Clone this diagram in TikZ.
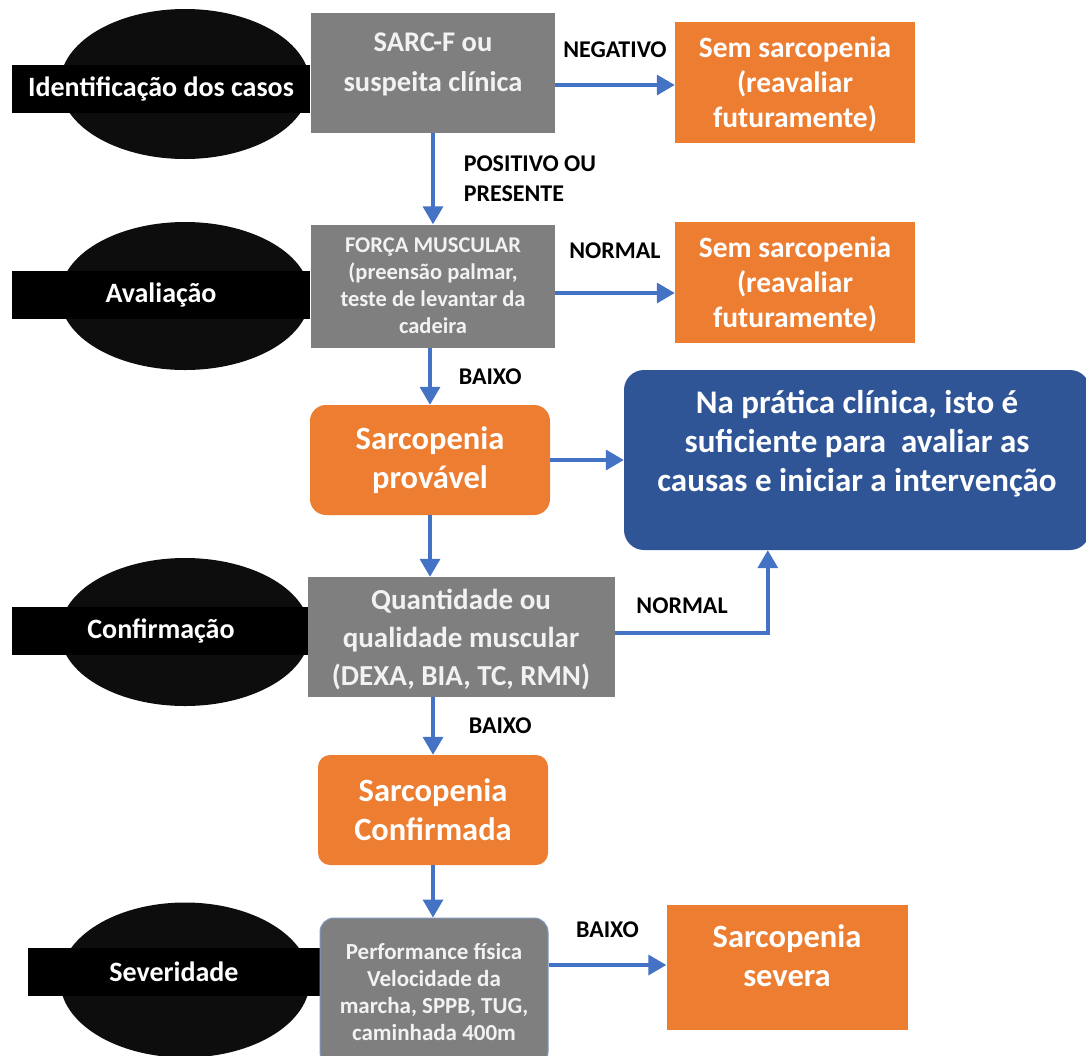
\documentclass[tikz,border=0pt]{standalone}
\usepackage{fontspec}
\setmainfont{Carlito}
\usepackage{xcolor}
\usepackage{tikz}
\usetikzlibrary{shapes.geometric,arrows.meta,positioning,calc}
\definecolor{flowblue}{RGB}{68,114,196}
\definecolor{stepgray}{RGB}{127,127,127}
\definecolor{resorange}{RGB}{237,125,49}
\definecolor{noteblue}{RGB}{47,85,151}

\begin{document}
\begin{tikzpicture}[x=1pt, y=-1pt,
        phase/.style={ellipse, fill=black!95, minimum width=250pt, minimum height=150pt},
        band/.style={rectangle, fill=black, text=white, minimum height=48pt, inner sep=0pt,
            font=\fontsize{28}{32}\selectfont\bfseries},
        graybox/.style={rectangle, fill=stepgray, text=black!5, align=center,
            font=\fontsize{28.5}{40}\selectfont\bfseries},
        smallgray/.style={graybox, font=\fontsize{22.5}{27}\selectfont\bfseries},
        sidebox/.style={rectangle, fill=resorange, text=white, align=center,
            minimum width=240pt, minimum height=121pt, text depth=-1pt,
            font=\fontsize{29.5}{35}\selectfont\bfseries},
        resbox/.style={rectangle, fill=resorange, text=white, align=center,
            font=\fontsize{32.5}{39}\selectfont\bfseries},
        notebox/.style={rectangle, rounded corners=20pt, fill=noteblue, text=white, align=center,
            font=\fontsize{33}{39}\selectfont\bfseries},
        arrow/.style={-{Triangle[length=18pt,width=20pt]}, line width=3.5pt, flowblue},
        cond/.style={font=\fontsize{24}{30}\selectfont\bfseries, text=black, inner sep=0pt, align=left}
    ]
        \clip (0,0) rectangle (1086,1055);

        % fases
        \node[phase] (E1) at (185,84) {};
        \node[phase, minimum height=148pt] (E2) at (185,296) {};
        \node[phase, minimum height=148pt] (E3) at (185,632) {};
        \node[phase, minimum height=155pt] (E4) at (185,980) {};
        \node[band, minimum width=298pt] (B1) at (161,89) {Identificação dos casos};
        \node[band, minimum width=298pt] (B2) at (161,295) {Avaliação};
        \node[band, minimum width=298pt] (B3) at (161,631) {Confirmação};
        \node[band, minimum width=292pt] (B4) at (174,972) {Severidade};

        % coluna principal
        \node[graybox, minimum width=244pt, minimum height=120pt, text depth=21pt] (G1) at (433,73) {SARC-F ou\\suspeita clínica};
        \node[smallgray, minimum width=244pt, minimum height=123pt] (G2) at (433,286) {FORÇA MUSCULAR\\(preensão palmar,\\teste de levantar da\\cadeira};
        \node[resbox, rounded corners=16pt, minimum width=240pt, minimum height=110pt] (P) at (430,460) {Sarcopenia\\provável};
        \node[graybox, font=\fontsize{29}{38}\selectfont\bfseries, text depth=-5pt, minimum width=307pt, minimum height=120pt] (G3) at (461,637) {Quantidade ou\\qualidade muscular\\(DEXA, BIA, TC, RMN)};
        \node[resbox, rounded corners=12pt, minimum width=230pt, minimum height=110pt] (C) at (433,810) {Sarcopenia\\Confirmada};
        \node[smallgray, font=\fontsize{23}{27}\selectfont\bfseries, rounded corners=14pt, draw=noteblue!60, line width=1pt, minimum width=228pt, minimum height=148pt] (G4) at (434,992) {Performance física\\Velocidade da\\marcha, SPPB, TUG,\\caminhada 400m};

        % resultados
        \node[sidebox] (S1) at (795,82) {Sem sarcopenia\\(reavaliar\\futuramente)};
        \node[sidebox] (S2) at (795,282) {Sem sarcopenia\\(reavaliar\\futuramente)};
        \node[notebox, minimum width=466pt, minimum height=180pt, text depth=38pt] (N) at (857,460) {Na prática clínica, isto é\\suficiente para~ avaliar as\\causas e iniciar a intervenção};
        \node[resbox, minimum width=241pt, minimum height=125pt, text depth=22pt] (S3) at (787,967) {Sarcopenia\\severa};

        % conexoes
        \draw[arrow] ([yshift=-12pt]G1.east) -- node[cond, above=25.5pt] {NEGATIVO} ([yshift=-12pt]G1.east -| S1.west);
        \draw[arrow] (G1) -- node[cond, right=29pt] {POSITIVO OU\\PRESENTE} (G2);
        \draw[arrow] ([yshift=-7pt]G2.east) -- node[cond, above=32.5pt] {NORMAL} ([yshift=-7pt]G2.east -| S2.west);
        \draw[arrow] (G2.south -| P.north) -- node[cond, right=27pt] {BAIXO} (P.north);
        \draw[arrow] (P.east) -- (P.east -| N.west);
        \draw[arrow] (P.south) -- (P.south |- G3.north);
        \draw[arrow] ([yshift=4pt]G3.east) -| node[cond, pos=0.22, above=17.5pt] {NORMAL} ([xshift=144pt]N.south west);
        \draw[arrow] (C.north |- G3.south) -- node[cond, right=34pt] {BAIXO} (C.north);
        \draw[arrow] (C.south) -- (C.south |- G4.north);
        \draw[arrow] ([yshift=27pt]G4.east) -- node[cond, above=25.5pt] {BAIXO} ([yshift=27pt]G4.east -| S3.west);
    \end{tikzpicture}
\end{document}
